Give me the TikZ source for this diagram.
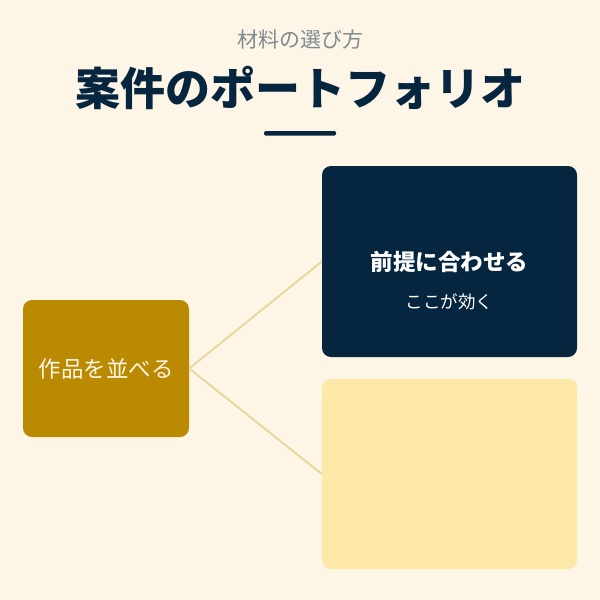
\documentclass[tikz,border=0pt]{standalone}
\usepackage{fontspec}
\setmainfont{Noto Sans CJK JP}
\definecolor{bgc}{HTML}{FDF6E6}
\definecolor{navy}{HTML}{062640}
\definecolor{gold}{HTML}{BA8A03}
\definecolor{lighty}{HTML}{FDE8A8}
\definecolor{linec}{HTML}{EAD598}
\definecolor{graytxt}{HTML}{7F8A8F}
\definecolor{whitish}{HTML}{FDF6E6}
\begin{document}
\begin{tikzpicture}[x=1pt,y=-1pt,
  box/.style={rounded corners=9pt,draw=none},
  conn/.style={draw=linec,line width=1.8pt}]
\fill[bgc] (0,0) rectangle (600,600);
\useasboundingbox (0,0) rectangle (600,600);
\node (sub) at (300,40) {\fontsize{21}{24}\selectfont\color{graytxt}材料の選び方};
\node (title) at (300,88) {\fontsize{45}{50}\selectfont\bfseries\color{navy}案件のポートフォリオ};
\fill[navy,rounded corners=1.5pt] (264,131) rectangle (336,135.5);
\node[box,fill=gold,minimum width=166pt,minimum height=137pt] (left) at (106,368.5) {};
\node[box,fill=navy,minimum width=255pt,minimum height=191pt] (top) at (449.5,261.5) {};
\node[box,fill=lighty,minimum width=255pt,minimum height=190pt] (bot) at (449.5,474) {};
\draw[conn] (left.east) -- (top.west);
\draw[conn] (left.east) -- (bot.west);
\node[text=whitish] (lt) at (left.center) {\fontsize{22.5}{26}\selectfont 作品を並べる};
\node[text=white] (tt) at (449.5,262) {\fontsize{22.5}{26}\selectfont\bfseries 前提に合わせる};
\node[text=white] (ts) at (449.5,302) {\fontsize{17.5}{20}\selectfont ここが効く};
\end{tikzpicture}
\end{document}
